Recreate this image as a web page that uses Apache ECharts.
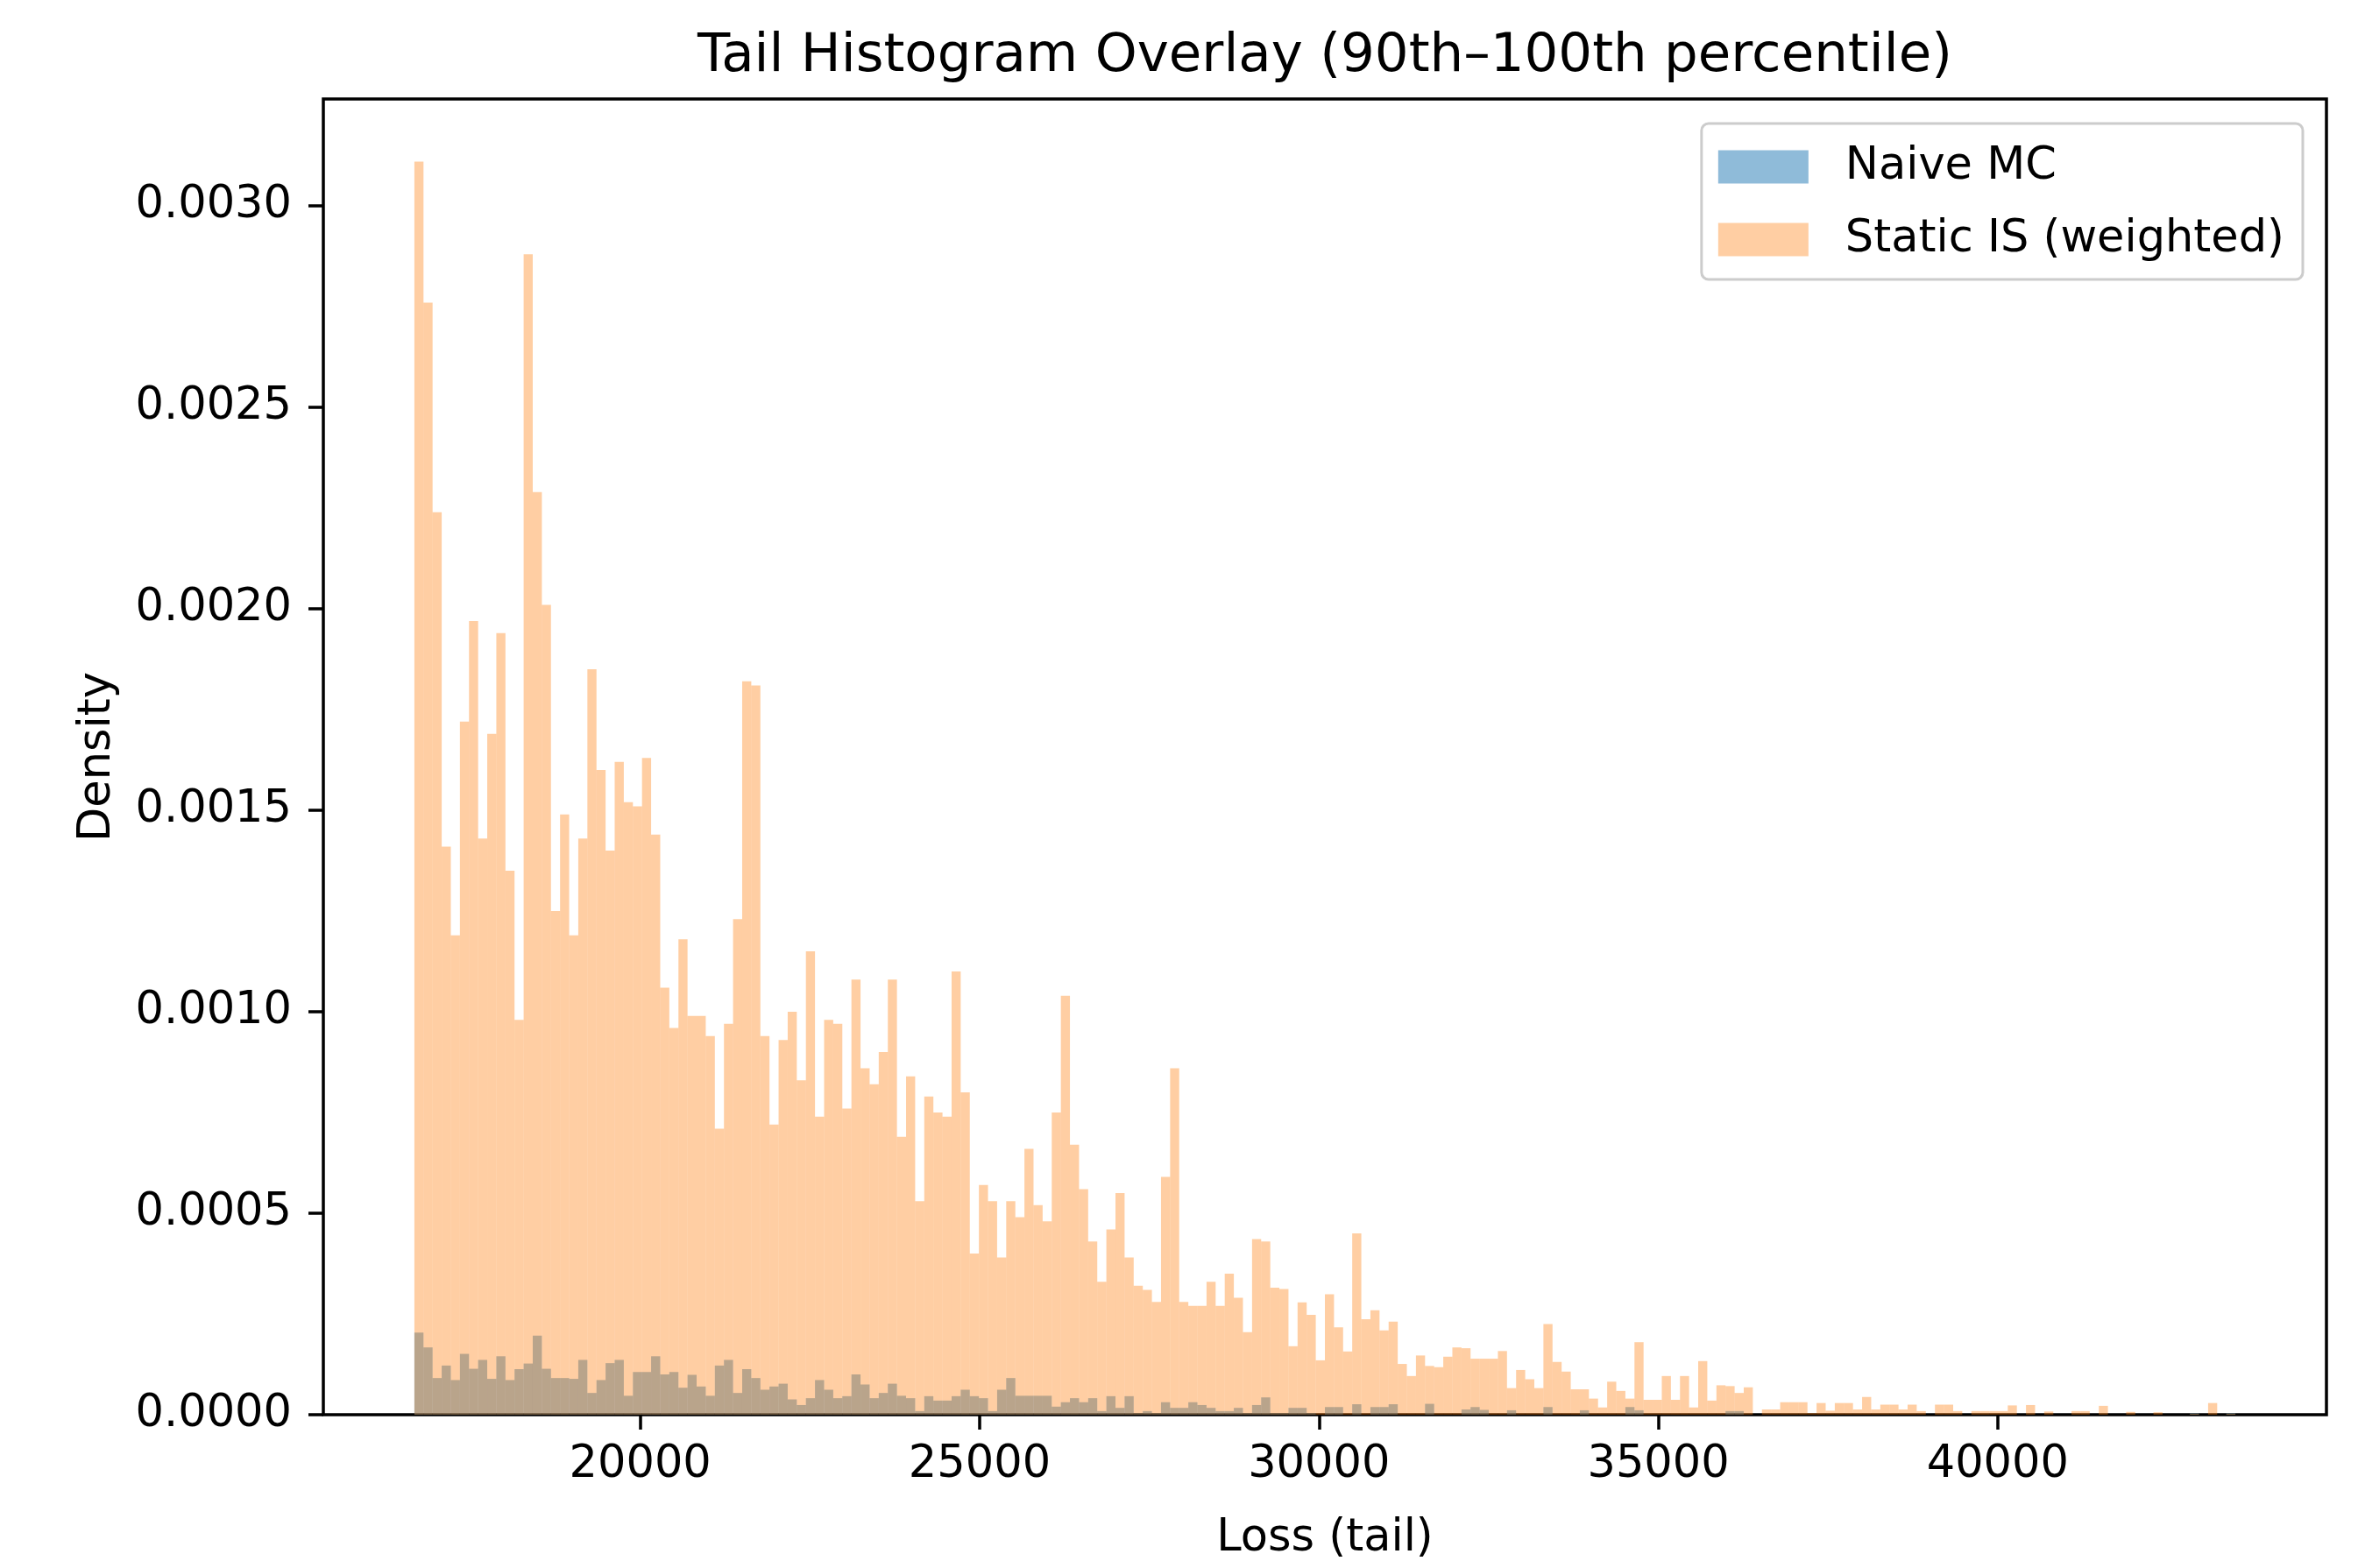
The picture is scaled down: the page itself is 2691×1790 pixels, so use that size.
<!DOCTYPE html>
<html><head><meta charset="utf-8">
<script src="https://cdn.jsdelivr.net/npm/echarts@6/dist/echarts.min.js"></script>
<style>html,body{margin:0;padding:0;background:#fff}#chart{width:2691px;height:1790px}</style>
</head><body><div id="chart"></div>
<script>
// Histogram range (200 equal bins)
const binStart = 16672;
const binEnd = 43502;
const binCount = 200;

const naiveMC = [
0.000204,0.000167,0.000091,0.000122,0.000086,0.000151,0.000114,0.000136,0.000089,0.000145,
0.000086,0.000113,0.000127,0.000196,0.000114,0.000091,0.000091,0.000089,0.000136,0.000054,
0.000086,0.000128,0.000136,0.000047,0.000106,0.000106,0.000145,0.000100,0.000106,0.000067,
0.000099,0.000070,0.000047,0.000122,0.000136,0.000054,0.000113,0.000091,0.000062,0.000070,
0.000077,0.000038,0.000024,0.000041,0.000086,0.000062,0.000041,0.000046,0.000100,0.000075,
0.000041,0.000054,0.000077,0.000047,0.000041,0.000009,0.000046,0.000035,0.000035,0.000046,
0.000062,0.000046,0.000041,0.000009,0.000062,0.000091,0.000047,0.000047,0.000047,0.000047,
0.000020,0.000031,0.000041,0.000031,0.000041,0.000009,0.000046,0.000017,0.000046,0.000004,
0.000009,0.000004,0.000031,0.000017,0.000017,0.000031,0.000024,0.000017,0.000009,0.000009,
0.000017,0.000004,0.000024,0.000043,0.000004,0.000004,0.000017,0.000017,0.000004,0,
0.000019,0.000019,0,0.000026,0,0.000019,0.000019,0.000026,0,0,
0,0.000027,0,0,0,0.000013,0.000019,0.000012,0,0,
0.000011,0,0,0,0.000019,0,0,0,0.000011,0,
0,0,0,0.000019,0.000011,0,0,0,0,0,
0,0,0,0,0.000009,0.000009,0,0,0,0,
0,0,0,0,0,0,0,0,0,0,
0,0,0,0,0,0,0,0,0,0,
0,0,0,0,0,0,0,0,0,0,
0,0,0,0,0,0,0,0,0,0,
0,0,0,0,0,0.000004,0,0,0,0.000004
];

const staticIS = [
0.00311,0.00276,0.00224,0.00141,0.00119,0.00172,0.00197,0.00143,0.00169,0.00194,
0.00135,0.00098,0.00288,0.00229,0.00201,0.00125,0.00149,0.00119,0.00143,0.00185,
0.00160,0.00140,0.00162,0.00152,0.00151,0.00163,0.00144,0.00106,0.00096,0.00118,
0.00099,0.00099,0.00094,0.00071,0.00097,0.00123,0.00182,0.00181,0.00094,0.00072,
0.00093,0.00100,0.00083,0.00115,0.00074,0.00098,0.00097,0.00076,0.00108,0.00086,
0.00082,0.00090,0.00108,0.00069,0.00084,0.00053,0.00079,0.00075,0.00074,0.00110,
0.00080,0.00040,0.00057,0.00053,0.00039,0.00053,0.00049,0.00066,0.00052,0.00048,
0.00075,0.00104,0.00067,0.00056,0.00043,0.00033,0.00046,0.00055,0.00039,0.00032,
0.00031,0.00028,0.00059,0.00086,0.00028,0.00027,0.00027,0.00033,0.00027,0.00035,
0.000290,0.000205,0.000436,0.000430,0.000315,0.000312,0.000170,0.000279,0.000248,0.000135,
0.000299,0.000217,0.000157,0.000450,0.000237,0.000259,0.000209,0.000231,0.000126,0.000096,
0.000147,0.000121,0.000118,0.000144,0.000167,0.000165,0.000139,0.000139,0.000139,0.000158,
0.000066,0.000111,0.000088,0.000066,0.000225,0.000131,0.000107,0.000063,0.000063,0.000040,
0.000018,0.000082,0.000059,0.000040,0.000180,0.000037,0.000037,0.000096,0.000037,0.000096,
0.000018,0.000133,0.000035,0.000073,0.000071,0.000054,0.000068,0,0.000013,0.000013,
0.000031,0.000031,0.000031,0.000004,0.000029,0.000010,0.000029,0.000029,0.000013,0.000044,
0.000013,0.000025,0.000025,0.000013,0.000025,0.000009,0,0.000025,0.000025,0.000009,
0,0.000009,0.000009,0.000009,0.000009,0.000023,0,0.000024,0,0.000008,
0,0,0.000009,0.000009,0,0.000022,0,0,0.000007,0,
0,0.000006,0,0,0,0.000003,0,0.000029,0,0.000003
];

const xTicks = [20000, 25000, 30000, 35000, 40000];
const yTicks = [0, 0.0005, 0.0010, 0.0015, 0.0020, 0.0025, 0.0030];
const seriesNames = ['Naive MC', 'Static IS (weighted)'];

const binW = (binEnd - binStart) / binCount;
function toBins(vals) {
  return vals.map((v, i) => [binStart + i * binW, binStart + (i + 1) * binW, v]);
}
const xPad = 0.05 * (binEnd - binStart);
const yMax = 1.05 * Math.max(...staticIS, ...naiveMC);

function renderBar(params, api) {
  const p0 = api.coord([api.value(0), api.value(2)]);
  const p1 = api.coord([api.value(1), 0]);
  return {
    type: 'rect',
    shape: { x: p0[0], y: p0[1], width: p1[0] - p0[0], height: p1[1] - p0[1] },
    style: { fill: api.visual('color') }
  };
}

const W = 2691, GL = 369, GR = 36;
const FONT = 'DejaVu Sans';
const chart = echarts.init(document.getElementById('chart'), null, { renderer: 'canvas' });
chart.setOption({
  animation: false,
  backgroundColor: '#ffffff',
  title: {
    text: 'Tail Histogram Overlay (90th\u2013100th percentile)',
    left: GL + (W - GL - GR) / 2,
    textAlign: 'center',
    top: 35,
    padding: 0,
    textStyle: { fontFamily: FONT, fontSize: 61, fontWeight: 'normal', color: '#000' }
  },
  legend: {
    data: seriesNames,
    orient: 'vertical',
    right: 63,
    top: 141,
    icon: 'rect',
    itemWidth: 103,
    itemHeight: 38,
    itemGap: 32,
    padding: [24, 21, 20, 19],
    backgroundColor: '#ffffff',
    borderColor: '#cccccc',
    borderWidth: 3,
    borderRadius: 8,
    selectedMode: false,
    textStyle: { fontFamily: FONT, fontSize: 51, color: '#000', padding: [0, 0, 0, 37] }
  },
  grid: {
    left: GL, right: GR, top: 113, bottom: 175,
    show: true, borderColor: '#000', borderWidth: 3.5,
    containLabel: false, outerBoundsMode: 'none'
  },
  xAxis: {
    type: 'value',
    min: binStart - xPad,
    max: binEnd + xPad,
    name: 'Loss (tail)',
    nameLocation: 'middle',
    nameGap: 116,
    nameTextStyle: { fontFamily: FONT, fontSize: 51, color: '#000' },
    axisLine: { show: false },
    axisTick: { show: true, length: 17, lineStyle: { color: '#000', width: 3.5 }, customValues: xTicks },
    axisLabel: { customValues: xTicks, margin: 32, fontFamily: FONT, fontSize: 51, color: '#000',
                 formatter: v => String(Math.round(v)) },
    splitLine: { show: false }
  },
  yAxis: {
    type: 'value',
    min: 0,
    max: yMax,
    name: 'Density',
    nameLocation: 'middle',
    nameGap: 232,
    nameTextStyle: { fontFamily: FONT, fontSize: 51, color: '#000' },
    axisLine: { show: false },
    axisTick: { show: true, length: 17, lineStyle: { color: '#000', width: 3.5 }, customValues: yTicks },
    axisLabel: { customValues: yTicks, margin: 36, fontFamily: FONT, fontSize: 51, color: '#000',
                 formatter: v => Number(v).toFixed(4) },
    splitLine: { show: false }
  },
  series: [
    {
      name: seriesNames[0], type: 'custom', renderItem: renderBar,
      itemStyle: { color: 'rgba(31,119,180,0.5)' },
      encode: { x: [0, 1], y: 2 },
      data: toBins(naiveMC)
    },
    {
      name: seriesNames[1], type: 'custom', renderItem: renderBar,
      itemStyle: { color: 'rgba(255,127,14,0.38)' },
      encode: { x: [0, 1], y: 2 },
      data: toBins(staticIS)
    }
  ]
});
</script>
</body></html>
